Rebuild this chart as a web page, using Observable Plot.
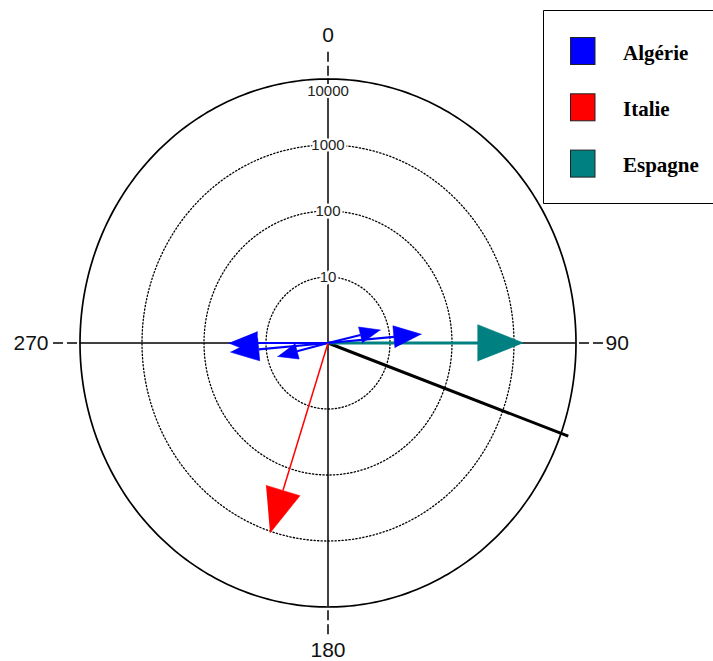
<!DOCTYPE html>
<html>
<head>
<meta charset="utf-8">
<script src="https://cdn.jsdelivr.net/npm/d3@7"></script>
<script src="https://cdn.jsdelivr.net/npm/@observablehq/plot@0.6"></script>
<style>
  html, body { margin: 0; padding: 0; background: #fff; overflow: hidden; }
</style>
</head>
<body>
<div id="chart"></div>
<script>
// Pays et couleurs de la légende
const pays = ["Algérie", "Italie", "Espagne"];
const couleurs = ["#0000ff", "#ff0000", "#008080"];

// Vecteurs : pays, direction (degrés, 0 = nord, sens horaire) et valeur (rayon logarithmique)
const vecteurPays = ["Algérie", "Algérie", "Algérie", "Algérie", "Algérie", "Italie", "Espagne"];
const vecteurDirection = [270, 265, 256, 77, 85, 198, 90];
const vecteurValeur = [40, 38, 6.9, 7.4, 32.6, 1060, 1420];

// Direction résultante (segment noir)
const resultanteDirection = 110;
const resultanteValeur = 13300;

// Cercles de graduation et directions cardinales
const cercles = [10, 100, 1000, 10000];
const directions = [0, 90, 180, 270];

// Mise en page
const W = 713, H = 661;
const mL = 79.5, mR = 137.5, mT = 78.5, mB = 54.5;
const R = Math.log10(d3.max(cercles));          // rayon extérieur en décades
const kx = (W - mL - mR) / (2 * R);              // pixels par décade (horizontal)
const ky = (H - mT - mB) / (2 * R);              // pixels par décade (vertical)

// Coordonnées cartésiennes d'une direction et d'une valeur
function polar(deg, v) {
  const r = Math.log10(v), a = deg * Math.PI / 180;
  return [r * Math.sin(a), r * Math.cos(a)];
}

// Tige et pointe triangulaire de chaque vecteur
const vecteurs = vecteurPays.map((p, i) => {
  const val = vecteurValeur[i];
  const [tx, ty] = polar(vecteurDirection[i], val);
  const sx = tx * kx, sy = ty * ky, len = Math.hypot(sx, sy);
  const ux = sx / len, uy = sy / len;
  const L = 11 + 11 * Math.log10(val), w = 0.4 * L;
  const bx = sx - L * ux, by = sy - L * uy;
  return {
    id: i, pays: p, x: tx, y: ty, bx: bx / kx, by: by / ky,
    pointe: [
      [tx, ty],
      [(bx - w * uy) / kx, (by + w * ux) / ky],
      [(bx + w * uy) / kx, (by - w * ux) / ky]
    ]
  };
});
const pointes = vecteurs.flatMap(v => v.pointe.map(([x, y]) => ({id: v.id, pays: v.pays, x, y})));

// Tracé des cercles
const anneaux = cercles.flatMap(v => d3.range(0, 361, 1).map(a => {
  const [x, y] = polar(a, v);
  return {v, x, y};
}));

const [rx, ry] = polar(resultanteDirection, resultanteValeur);

const font = "Liberation Sans, Arial, sans-serif";

function fleches(p, largeur) {
  return [
    Plot.link(vecteurs.filter(d => d.pays === p), {
      x1: () => 0, y1: () => 0, x2: "bx", y2: "by",
      stroke: "pays", strokeWidth: largeur, strokeLinecap: "butt"
    }),
    Plot.line(pointes.filter(d => d.pays === p), {
      x: "x", y: "y", z: "id", fill: "pays", stroke: "pays", strokeWidth: 0.6
    })
  ];
}

const ext = (d, r) => polar(d, Math.pow(10, r));

const plot = Plot.plot({
  width: W, height: H,
  marginLeft: mL, marginRight: mR, marginTop: mT, marginBottom: mB,
  x: {domain: [-R, R], axis: null},
  y: {domain: [-R, R], axis: null},
  color: {domain: pays, range: couleurs},
  style: {background: "#fff", overflow: "visible"},
  marks: [
    // axes
    Plot.ruleX([0], {y1: -R, y2: R, stroke: "#000", strokeWidth: 1.5}),
    Plot.ruleY([0], {x1: -R, x2: R, stroke: "#000", strokeWidth: 1.5}),
    Plot.link(directions, {
      x1: d => ext(d, R * 1.012)[0], y1: d => ext(d, R * 1.012)[1],
      x2: d => ext(d, R * 1.11)[0], y2: d => ext(d, R * 1.11)[1],
      stroke: "#000", strokeWidth: 1.5, strokeDasharray: "10,4"
    }),
    // cercles pointillés et cercle extérieur
    Plot.line(anneaux.filter(d => d.v < 10000), {
      x: "x", y: "y", z: "v", stroke: "#000", strokeWidth: 1.3, strokeDasharray: "1.3,2.2"
    }),
    Plot.line(anneaux.filter(d => d.v === 10000), {
      x: "x", y: "y", stroke: "#000", strokeWidth: 1.7
    }),
    // graduations
    Plot.text(cercles.slice(0, -1), {
      x: () => 0, y: d => Math.log10(d), text: d => String(d),
      fill: "#222", stroke: "#fff", strokeWidth: 5, fontSize: 15, fontFamily: font
    }),
    Plot.text(cercles.slice(-1), {
      x: () => 0, y: d => Math.log10(d), text: d => String(d), dy: 12,
      fill: "#222", stroke: "#fff", strokeWidth: 4, fontSize: 15, fontFamily: font
    }),
    // directions
    Plot.text([directions[0]], {x: () => 0, y: () => R, text: d => String(d), dy: -43.5, fontSize: 21, fontFamily: font, fill: "#111"}),
    Plot.text([directions[1]], {x: () => R, y: () => 0, text: d => String(d), dx: 29.5, textAnchor: "start", fontSize: 21, fontFamily: font, fill: "#111"}),
    Plot.text([directions[2]], {x: () => 0, y: () => -R, text: d => String(d), dy: 43.5, fontSize: 21, fontFamily: font, fill: "#111"}),
    Plot.text([directions[3]], {x: () => -R, y: () => 0, text: d => String(d), dx: -31.5, textAnchor: "end", fontSize: 21, fontFamily: font, fill: "#111"}),
    // résultante
    Plot.link([0], {x1: () => 0, y1: () => 0, x2: () => rx, y2: () => ry, stroke: "#000", strokeWidth: 3}),
    // vecteurs par pays
    ...fleches("Espagne", 3),
    ...fleches("Algérie", 2.2),
    ...fleches("Italie", 1.5)
  ]
});

// Légende
const g = d3.select(plot).append("g").attr("text-anchor", "start");
g.append("path")
  .attr("d", "M720,10.5H543.5V203.5H720")
  .attr("fill", "none").attr("stroke", "#000").attr("stroke-width", 1);
pays.forEach((p, i) => {
  g.append("rect")
    .attr("x", 570.5).attr("y", 37.5 + i * 56.3)
    .attr("width", 24.5).attr("height", 27)
    .attr("fill", couleurs[i]).attr("stroke", "#222").attr("stroke-width", 1);
  g.append("text")
    .attr("x", 623).attr("y", 60 + i * 56)
    .attr("text-anchor", "start")
    .attr("font-family", "Liberation Serif, Times New Roman, serif")
    .attr("font-weight", "bold").attr("font-size", 21)
    .attr("fill", "#000")
    .text(p);
});

document.getElementById("chart").appendChild(plot);
</script>
</body>
</html>
